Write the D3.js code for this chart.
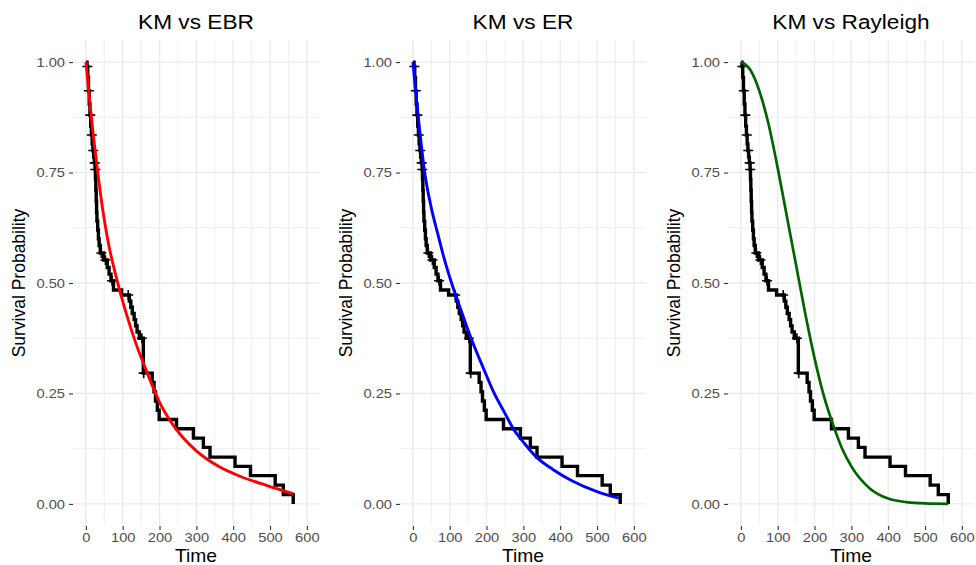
<!DOCTYPE html>
<html>
<head>
<meta charset="utf-8">
<script src="https://cdn.jsdelivr.net/npm/d3@7"></script>
<style>
  body { margin: 0; background: #ffffff; }
  text { font-family: "Liberation Sans", Arial, Helvetica, sans-serif; }
</style>
</head>
<body>
<svg id="chart" width="976" height="565"></svg>
<script>
// ---------------- data ----------------
const kmTime = [0, 3, 5, 7, 9, 11, 13, 15, 17, 19, 21, 23, 25, 26, 27, 28, 29, 30, 32, 34, 36, 39, 48, 58, 63, 68, 75, 97, 118, 122, 126, 131, 135, 139, 145, 156, 180, 185, 189, 194, 199, 246, 292, 319, 337, 405, 447, 514, 536, 563];
const kmSurv = [1, 0.99, 0.965, 0.935, 0.905, 0.88, 0.855, 0.835, 0.815, 0.80, 0.785, 0.772, 0.757, 0.735, 0.71, 0.685, 0.66, 0.64, 0.62, 0.60, 0.585, 0.568, 0.552, 0.535, 0.52, 0.505, 0.484, 0.473, 0.459, 0.445, 0.431, 0.417, 0.403, 0.389, 0.375, 0.296, 0.275, 0.254, 0.233, 0.212, 0.191, 0.170, 0.149, 0.128, 0.106, 0.085, 0.064, 0.0425, 0.021, 0.0];

const censTime = [4, 8, 12, 16, 20, 24, 25.5, 42, 53, 71, 115, 152, 157];
const censSurv = [0.99, 0.935, 0.88, 0.835, 0.80, 0.772, 0.757, 0.568, 0.552, 0.505, 0.473, 0.375, 0.296];

const ebrTime = [0, 10, 20, 30, 45, 60, 85, 110, 135, 165, 200, 240, 300, 360, 420, 490, 563];
const ebrSurv = [1, 0.915, 0.835, 0.765, 0.67, 0.595, 0.505, 0.43, 0.365, 0.30, 0.23, 0.175, 0.12, 0.085, 0.062, 0.042, 0.023];

const erTime = [0, 8, 16, 32, 50, 68, 85, 105, 130, 158, 190, 221, 250, 275, 300, 334, 380, 433, 500, 559];
const erSurv = [1, 0.93, 0.865, 0.75, 0.67, 0.61, 0.555, 0.50, 0.44, 0.375, 0.31, 0.25, 0.205, 0.167, 0.14, 0.107, 0.078, 0.052, 0.028, 0.013];

const rayTime = [0, 25, 50, 75, 100, 125, 150, 175, 200, 225, 250, 275, 300, 350, 400, 450, 500, 563];
const raySurv = [1, 0.983, 0.935, 0.86, 0.76, 0.65, 0.54, 0.43, 0.33, 0.245, 0.18, 0.125, 0.085, 0.035, 0.012, 0.004, 0.001, 0.0];

const panelTitles = ["KM vs EBR", "KM vs ER", "KM vs Rayleigh"];
const fitColors = ["#FF0000", "#0000FF", "#006400"];
const xTicks = [0, 100, 200, 300, 400, 500, 600];
const xMinor = [50, 150, 250, 350, 450, 550];
const yTicks = [0, 0.25, 0.5, 0.75, 1];
const yMinor = [0.125, 0.375, 0.625, 0.875];
const xLabel = "Time";
const yLabel = "Survival Probability";

// ---------------- drawing ----------------
const svg = d3.select("#chart");
svg.append("rect").attr("width", 976).attr("height", 565).attr("fill", "#ffffff");

const fits = [
  { t: ebrTime, s: ebrSurv },
  { t: erTime, s: erSurv },
  { t: rayTime, s: raySurv }
];
const panelLefts = [73, 400, 728];
const panelW = 246, pTop = 40, pBottom = 526;
const SX = 1.13; // horizontal glyph stretch seen in the reference

const km = kmTime.map((t, i) => ({ t, s: kmSurv[i] }));
const cens = censTime.map((t, i) => ({ t, s: censSurv[i] }));

panelTitles.forEach((title, p) => {
  const left = panelLefts[p];
  const x = d3.scaleLinear().domain([-35, 633]).range([left, left + panelW]);
  const y = d3.scaleLinear().domain([-0.05, 1.05]).range([pBottom, pTop]);
  const g = svg.append("g");

  // grid
  const grid = g.append("g");
  xMinor.forEach(v => grid.append("line").attr("x1", x(v)).attr("x2", x(v)).attr("y1", pTop).attr("y2", pBottom)
    .attr("stroke", "#EBEBEB").attr("stroke-width", 0.8));
  yMinor.forEach(v => grid.append("line").attr("y1", y(v)).attr("y2", y(v)).attr("x1", left).attr("x2", left + panelW)
    .attr("stroke", "#EBEBEB").attr("stroke-width", 0.8));
  xTicks.forEach(v => grid.append("line").attr("x1", x(v)).attr("x2", x(v)).attr("y1", pTop).attr("y2", pBottom)
    .attr("stroke", "#EBEBEB").attr("stroke-width", 1.4));
  yTicks.forEach(v => grid.append("line").attr("y1", y(v)).attr("y2", y(v)).attr("x1", left).attr("x2", left + panelW)
    .attr("stroke", "#EBEBEB").attr("stroke-width", 1.4));

  // axes
  const ya = g.append("g").attr("transform", `translate(${left},0)`)
    .call(d3.axisLeft(y).tickValues(yTicks).tickFormat(d3.format(".2f")).tickSize(4).tickPadding(4));
  ya.select(".domain").remove();
  ya.selectAll(".tick line").attr("stroke", "#333333").attr("stroke-width", 1.1);
  ya.selectAll(".tick text").attr("fill", "#4D4D4D").attr("font-size", 13)
    .attr("x", -8 / SX).attr("transform", `scale(${SX},1)`);

  const xa = g.append("g").attr("transform", `translate(0,${pBottom})`)
    .call(d3.axisBottom(x).tickValues(xTicks).tickFormat(d3.format("d")).tickSize(4).tickPadding(3));
  xa.select(".domain").remove();
  xa.selectAll(".tick line").attr("stroke", "#333333").attr("stroke-width", 1.1);
  xa.selectAll(".tick text").attr("fill", "#4D4D4D").attr("font-size", 13)
    .attr("transform", `scale(${SX},1)`);

  // KM step curve
  const stepLine = d3.line().x(d => x(d.t)).y(d => y(d.s)).curve(d3.curveStepAfter);
  g.append("path").datum(km).attr("d", stepLine).attr("fill", "none")
    .attr("stroke", "#000000").attr("stroke-width", 3.4).attr("stroke-linejoin", "miter");

  // censor marks
  const cm = g.append("g");
  cens.forEach(d => {
    cm.append("path")
      .attr("d", `M${x(d.t) - 5},${y(d.s)}H${x(d.t) + 5}M${x(d.t)},${y(d.s) - 5}V${y(d.s) + 5}`)
      .attr("stroke", "#000000").attr("stroke-width", 1.6).attr("fill", "none");
  });

  // fitted curve
  const fd = fits[p].t.map((t, i) => ({ t, s: fits[p].s[i] }));
  const smooth = d3.line().x(d => x(d.t)).y(d => y(d.s)).curve(d3.curveMonotoneX);
  g.append("path").datum(fd).attr("d", smooth).attr("fill", "none")
    .attr("stroke", fitColors[p]).attr("stroke-width", p === 2 ? 2.7 : 2.9);

  // titles
  const cx = left + panelW / 2;
  g.append("text").attr("transform", `translate(${cx},29) scale(1.08,1)`)
    .attr("text-anchor", "middle").attr("font-size", 21).attr("fill", "#000").text(title);
  g.append("text").attr("transform", `translate(${cx},562) scale(1.1,1)`)
    .attr("text-anchor", "middle").attr("font-size", 17.5).attr("fill", "#000").text(xLabel);
  g.append("text").attr("transform", `translate(${left - 48},${(pTop + pBottom) / 2}) rotate(-90) scale(1,1.1)`)
    .attr("text-anchor", "middle").attr("font-size", 17.5).attr("fill", "#000").text(yLabel);
});
</script>
</body>
</html>
